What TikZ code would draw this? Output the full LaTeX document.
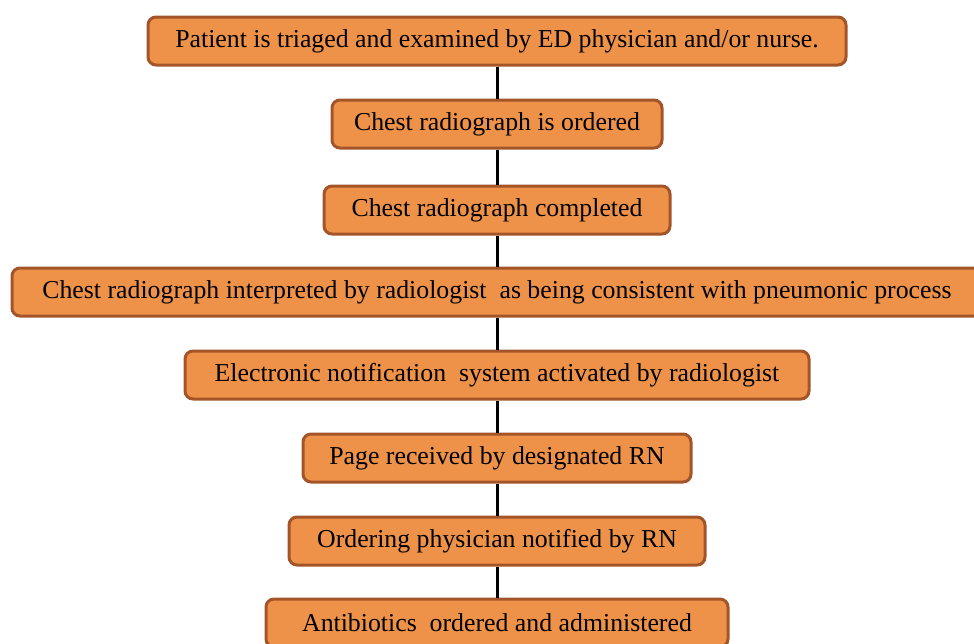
\documentclass[tikz,border=0pt]{standalone}
\usepackage{fontspec}
\setmainfont{Liberation Serif}
\definecolor{boxfill}{RGB}{238,146,74}
\definecolor{boxline}{RGB}{163,84,40}
\tikzset{
  stepbox/.style={draw=boxline, fill=boxfill, line width=1.5pt, rounded corners=4pt,
    minimum height=24pt, inner sep=0pt, font=\fontsize{12.9}{14}\selectfont},
  link/.style={line width=1.5pt, black}
}
\begin{document}
\begin{tikzpicture}
  [x=0.5pt, y=-0.5pt]
  \useasboundingbox (0,0) rectangle (974,643);

  % Caixas do fluxo
  \node[stepbox, minimum width=349pt] (triage) at (497,41) {Patient is triaged and examined by ED physician and/or nurse.};
  \node[stepbox, minimum width=165pt] (order) at (497,124) {Chest radiograph is ordered};
  \node[stepbox, minimum width=173pt] (done) at (497,210) {Chest radiograph completed};
  \node[stepbox, minimum width=485pt] (interp) at (497,292) {Chest radiograph interpreted by radiologist\ \ as being consistent with pneumonic process};
  \node[stepbox, minimum width=312pt] (notify) at (497,375) {Electronic notification\ \ system activated by radiologist};
  \node[stepbox, minimum width=194pt] (page) at (497,458) {Page received by designated RN};
  \node[stepbox, minimum width=208pt] (phys) at (497,541) {Ordering physician notified by RN};
  \node[stepbox, minimum width=231pt] (abx) at (497,623) {Antibiotics\ \ ordered and administered};

  % Conectores
  \draw[link] (triage) -- (order);
  \draw[link] (order) -- (done);
  \draw[link] (done) -- (interp);
  \draw[link] (interp) -- (notify);
  \draw[link] (notify) -- (page);
  \draw[link] (page) -- (phys);
  \draw[link] (phys) -- (abx);
\end{tikzpicture}
\end{document}
